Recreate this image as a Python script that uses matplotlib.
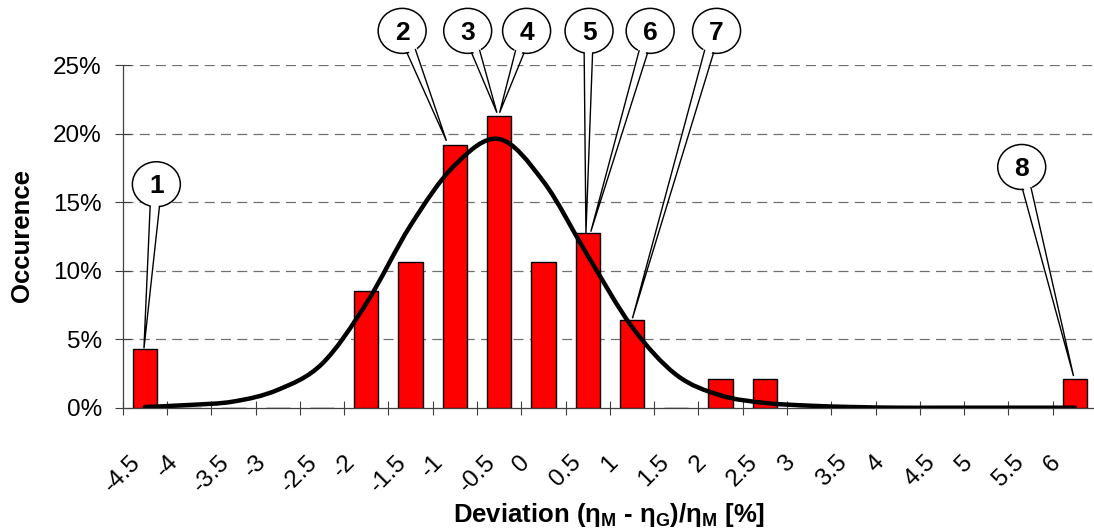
import matplotlib
matplotlib.use("Agg")
import matplotlib.pyplot as plt
import numpy as np
from matplotlib.path import Path
from matplotlib.patches import PathPatch, Ellipse, Polygon

plt.rcParams['font.family'] = ['Liberation Sans', 'DejaVu Sans']
plt.rcParams['mathtext.fontset'] = 'custom'
plt.rcParams['mathtext.rm'] = 'Liberation Sans'
plt.rcParams['mathtext.bf'] = 'Liberation Sans:bold'
plt.rcParams['mathtext.it'] = 'Liberation Sans:italic'

# Categories (bin labels) and values in percent
labels = ['-4.5', '-4', '-3.5', '-3', '-2.5', '-2', '-1.5', '-1', '-0.5', '0', '0.5',
          '1', '1.5', '2', '2.5', '3', '3.5', '4', '4.5', '5', '5.5', '6']
occurence = [4.26, 0, 0, 0, 0, 8.51, 10.64, 19.15, 21.28, 10.64, 12.77,
             6.38, 0, 2.13, 2.13, 0, 0, 0, 0, 0, 0, 2.13]
normal_fit = [0.05, 0.2, 0.45, 1.3, 3.2, 7.6, 13.3, 17.7, 19.6, 16.5, 11.1,
              5.9, 2.4, 0.9, 0.35, 0.15, 0.05, 0, 0, 0, 0, 0]

# Callouts: number, tip (x, y), circle centre (x, y), tail base x (left, right)
callouts = [
    ('1', (0.48, 4.33), (0.76, 16.3), (0.62, 0.83)),
    ('2', (7.31, 19.47), (6.31, 27.49), (6.42, 6.61)),
    ('3', (8.45, 21.52), (7.79, 27.49), (7.88, 8.06)),
    ('4', (8.51, 21.52), (9.12, 27.49), (8.87, 9.06)),
    ('5', (10.46, 12.74), (10.53, 27.49), (10.42, 10.61)),
    ('6', (10.57, 12.84), (11.91, 27.49), (11.66, 11.85)),
    ('7', (11.51, 6.52), (13.41, 27.49), (13.14, 13.34)),
    ('8', (21.47, 2.31), (20.30, 17.56), (20.32, 20.51)),
]

fig = plt.figure(figsize=(10.94, 5.30), dpi=100)
ax = fig.add_axes([122.7 / 1094, 1 - 407.7 / 530, (1097 - 122.7) / 1094, (407.7 - 65) / 530])

x = np.arange(len(labels)) + 0.5
ax.bar(x, occurence, width=0.55, color='#ff0000', edgecolor='black', linewidth=1.0, zorder=3)

# smoothed line through the fit points (Excel-like bezier)
pts = np.column_stack([x, normal_fit])
verts = [pts[0]]
codes = [Path.MOVETO]
n = len(pts)
for i in range(n - 1):
    pm = pts[i - 1] if i > 0 else pts[i]
    pp = pts[i + 2] if i + 2 < n else pts[i + 1]
    c1 = pts[i] + (pts[i + 1] - pm) / 6
    c2 = pts[i + 1] - (pp - pts[i]) / 6
    verts += [c1, c2, pts[i + 1]]
    codes += [Path.CURVE4] * 3
ax.add_patch(PathPatch(Path(verts, codes), fill=False, lw=3.2, color='black',
                       capstyle='round', joinstyle='round', zorder=4))

ax.set_xlim(0, 22)
ax.set_ylim(0, 25)
ax.set_xticks(np.arange(len(labels) + 1))
ax.set_xticklabels(labels + [''], rotation=45, ha='center', va='top')
ax.set_yticks(np.arange(0, 26, 5))
ax.set_yticklabels(['%d%%' % v for v in range(0, 26, 5)])
ax.tick_params(axis='x', direction='inout', length=10.5, width=0.8, color='#404040',
               pad=26, labelsize=17.5)
ax.tick_params(axis='y', direction='inout', length=11, width=0.8, color='#404040',
               pad=9.5, labelsize=17.5)

for s in ['top', 'right']:
    ax.spines[s].set_visible(False)
for s in ['left', 'bottom']:
    ax.spines[s].set_color('#404040')
    ax.spines[s].set_linewidth(0.9)

for v in range(5, 26, 5):
    ax.axhline(v, color='#707070', lw=0.9, ls=(0, (8, 5)), zorder=1)

# callouts
rx = 24 / 44.31
ry = 22.5 / 13.71
for num, tip, cen, base in callouts:
    cx, cy = cen
    bl, br = base
    yl = cy - ry * np.sqrt(max(0, 1 - ((bl - cx) / rx) ** 2))
    yr = cy - ry * np.sqrt(max(0, 1 - ((br - cx) / rx) ** 2))
    ax.add_patch(Ellipse((cx, cy), 2 * rx, 2 * ry, facecolor='white', edgecolor='black',
                         lw=1.1, zorder=6, clip_on=False))
    ax.add_patch(Polygon([(bl, yl + 0.4), tip, (br, yr + 0.4)], closed=True,
                         facecolor='white', edgecolor='none', zorder=7, clip_on=False))
    ax.plot([bl, tip[0], br], [yl, tip[1], yr], color='black', lw=1.0, zorder=8,
            clip_on=False, solid_joinstyle='miter')
    ax.text(cx, cy - 0.15, num, ha='center', va='center', fontsize=19, fontweight='bold',
            zorder=9, clip_on=False)

fig.text(22 / 1094, 1 - 236 / 530, 'Occurence', rotation=90, ha='center', va='center',
         fontsize=18.5, fontweight='bold')
fig.text(609 / 1094, 8 / 530, 'Deviation (η$_\\mathbf{M}$ - η$_\\mathbf{G}$)/η$_\\mathbf{M}$ [%]',
         ha='center', va='baseline', fontsize=18.5, fontweight='bold')

fig.savefig('out.png', dpi=100)
